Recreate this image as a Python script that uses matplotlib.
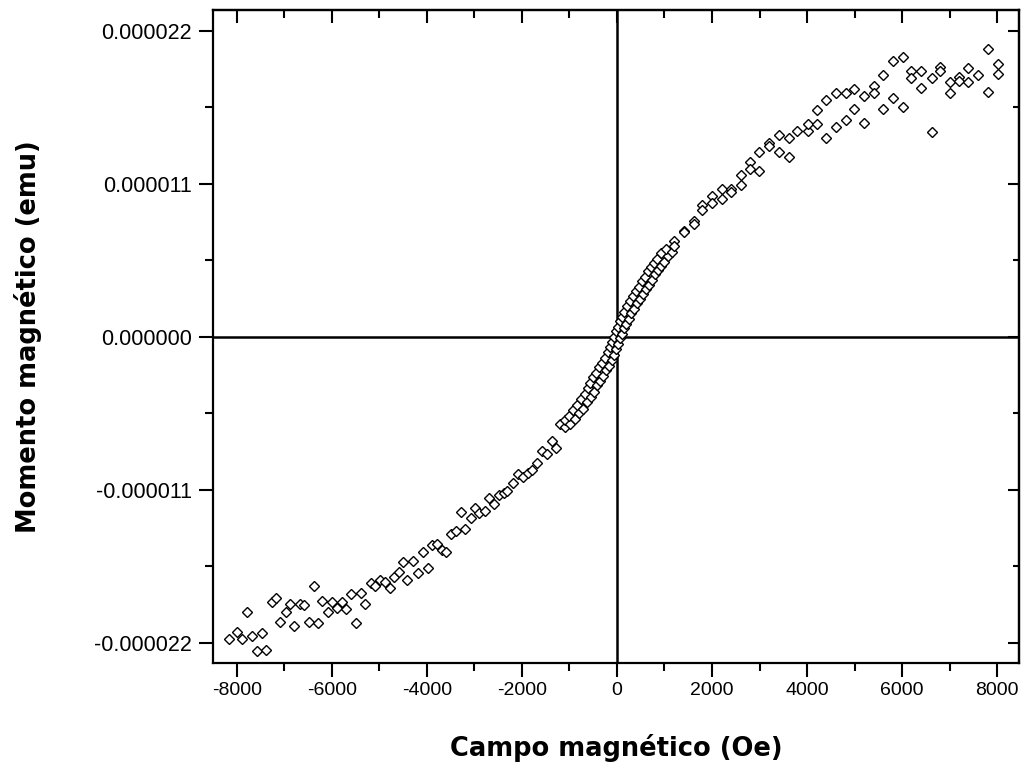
import matplotlib
matplotlib.use("Agg")
import matplotlib.pyplot as plt
from matplotlib.ticker import FixedLocator, FuncFormatter
import numpy as np

# Magnetic field (Oe) and magnetic moment (micro-emu)
field_low = [-8170, -8000, -7890, -7790, -7680, -7580, -7470, -7390, -7260, -7180,
             -7090, -6970, -6880, -6800, -6670, -6590, -6480, -6380, -6290, -6210,
             -6080, -6000, -5890, -5790, -5700, -5600, -5490, -5390, -5300, -5180,
             -5090, -4990, -4880, -4780, -4690, -4590, -4500, -4420, -4290, -4190,
             -4080, -3980, -3890, -3790, -3680, -3600, -3490, -3390, -3280, -3200,
             -3070, -2990, -2900, -2780, -2690, -2590, -2480, -2380, -2320, -2190,
             -2080, -1980, -1870, -1790, -1680, -1580, -1470, -1370, -1280]
moment_low = [-21.7, -21.2, -21.7, -19.8, -21.5, -22.6, -21.3, -22.5, -19.1, -18.8,
              -20.5, -19.8, -19.2, -20.8, -19.2, -19.3, -20.5, -17.9, -20.6, -19.0,
              -19.8, -19.1, -19.5, -19.1, -19.6, -18.5, -20.6, -18.4, -19.2, -17.7,
              -17.9, -17.5, -17.6, -18.1, -17.3, -16.9, -16.2, -17.5, -16.1, -17.0,
              -15.5, -16.6, -15.0, -14.9, -15.3, -15.5, -14.2, -14.0, -12.6, -13.8,
              -13.0, -12.3, -12.7, -12.5, -11.6, -12.0, -11.4, -11.2, -11.1, -10.5,
              -9.9, -10.1, -9.8, -9.6, -9.1, -8.2, -8.4, -7.5, -8.0]

field_mid = [-1200, -1100, -1090, -990, -1010, -890, -930, -800, -840, -720,
             -760, -630, -670, -550, -610, -490, -570, -420, -500, -360,
             -440, -300, -380, -230, -310, -170, -250, -110, -190, -70,
             -150, -20, -100, 20, -60, 60, -20, 100, 20, 150,
             60, 190, 110, 250, 150, 290, 210, 360, 270, 420,
             340, 480, 400, 550, 460, 610, 530, 670, 590, 730,
             650, 800, 720, 860, 780, 920, 840, 990, 930, 1070,
             1030, 1160]
moment_mid = [-6.3, -6.5, -6.0, -6.3, -5.7, -5.9, -5.3, -5.5, -4.9, -5.2,
              -4.5, -4.7, -4.1, -4.3, -3.7, -4.0, -3.3, -3.5, -2.9, -3.2,
              -2.6, -2.8, -2.2, -2.4, -1.9, -2.1, -1.5, -1.7, -1.1, -1.3,
              -0.7, -0.9, -0.4, -0.5, 0.0, -0.1, 0.4, 0.2, 0.7, 0.6,
              1.1, 0.9, 1.4, 1.3, 1.8, 1.7, 2.2, 2.0, 2.6, 2.4,
              2.9, 2.7, 3.3, 3.1, 3.6, 3.4, 4.0, 3.7, 4.3, 4.1,
              4.7, 4.5, 5.0, 4.8, 5.3, 5.1, 5.6, 5.4, 6.0, 5.8,
              6.3, 6.1]

field_high = [1200, 1200, 1410, 1410, 1620, 1620, 1790, 1790, 2000, 2000,
              2210, 2210, 2400, 2400, 2610, 2610, 2800, 2800, 2990, 2990,
              3200, 3200, 3410, 3410, 3620, 3620, 3790, 4020, 4020, 4210,
              4210, 4400, 4400, 4610, 4610, 4820, 4820, 4990, 4990, 5200,
              5200, 5410, 5410, 5600, 5600, 5810, 5810, 6020, 6020, 6190,
              6190, 6400, 6400, 6630, 6630, 6800, 6800, 7010, 7010, 7200,
              7200, 7390, 7390, 7600, 7810, 7810, 8020, 8020]
moment_high = [6.9, 6.5, 7.6, 7.5, 8.3, 8.1, 9.5, 9.1, 10.1, 9.6,
               10.6, 9.9, 10.6, 10.4, 11.6, 10.9, 12.6, 12.1, 13.3, 11.9,
               13.9, 13.7, 14.5, 13.3, 14.3, 12.9, 14.8, 14.8, 15.3, 15.3,
               16.3, 17.0, 14.3, 17.5, 15.1, 17.5, 15.6, 17.8, 16.4, 17.3,
               15.4, 18.0, 17.5, 18.8, 16.4, 19.8, 17.2, 20.1, 16.5, 19.1,
               18.6, 19.1, 17.9, 18.6, 14.7, 19.4, 19.1, 18.3, 17.5, 18.7,
               18.4, 19.3, 18.3, 18.8, 20.7, 17.6, 19.6, 18.9]

x_major = [-8000, -6000, -4000, -2000, 0, 2000, 4000, 6000, 8000]
x_minor = [-7000, -5000, -3000, -1000, 1000, 3000, 5000, 7000]
y_major_uemu = [-22, -11, 0, 11, 22]
y_minor_uemu = [-16.5, -5.5, 5.5, 16.5]

field = np.array(field_low + field_mid + field_high, dtype=float)
moment = np.array(moment_low + moment_mid + moment_high) * 1e-6

W, H = 1026, 765
fig = plt.figure(figsize=(W / 100, H / 100), dpi=100)
ax = fig.add_axes([213 / W, 1 - 663 / H, (1019 - 213) / W, (663 - 10) / H])

ax.axhline(0, color="black", lw=1.8, zorder=1)
ax.axvline(0, color="black", lw=1.8, zorder=1)
ax.plot(field, moment, linestyle="none", marker="D", ms=5.0, mfc="white",
        mec="black", mew=1.0, zorder=3)

ax.set_xlim(-8500, 8460)
ax.set_ylim(-23.46e-6, 23.5e-6)

ax.xaxis.set_major_locator(FixedLocator(x_major))
ax.xaxis.set_minor_locator(FixedLocator(x_minor))
ax.yaxis.set_major_locator(FixedLocator([v * 1e-6 for v in y_major_uemu]))
ax.yaxis.set_minor_locator(FixedLocator([v * 1e-6 for v in y_minor_uemu]))
ax.xaxis.set_major_formatter(FuncFormatter(lambda v, p: f"{int(round(v))}"))
ax.yaxis.set_major_formatter(FuncFormatter(
    lambda v, p: f"{round(v * 1e6) / 1e6:.6f}".replace("-0.000000", "0.000000")))

for lab in ax.get_xticklabels():
    lab.set_fontfamily(["Liberation Sans", "DejaVu Sans"])
    lab.set_fontsize(14)
for lab in ax.get_yticklabels():
    lab.set_fontfamily(["Liberation Sans", "DejaVu Sans"])
    lab.set_fontsize(15.5)

ax.tick_params(which="major", direction="out", length=10, width=1.5, color="black")
ax.tick_params(which="minor", direction="out", length=5.5, width=1.5, color="black")
ax.tick_params(axis="y", which="major", pad=5)
ax.tick_params(axis="x", which="major", pad=4)

for s in ax.spines.values():
    s.set_linewidth(1.6)

# inward ticks on top and right
top = ax.secondary_xaxis("top")
top.xaxis.set_major_locator(FixedLocator(x_major))
top.xaxis.set_minor_locator(FixedLocator(x_minor))
top.tick_params(which="major", direction="in", length=9.5, width=1.5, labeltop=False)
top.tick_params(which="minor", direction="in", length=5.5, width=1.5)
top.spines["top"].set_linewidth(1.6)

right = ax.secondary_yaxis("right")
right.yaxis.set_major_locator(FixedLocator([v * 1e-6 for v in y_major_uemu]))
right.yaxis.set_minor_locator(FixedLocator([v * 1e-6 for v in y_minor_uemu]))
right.tick_params(which="major", direction="in", length=8, width=1.5, labelright=False)
right.tick_params(which="minor", direction="in", length=4, width=1.5)
right.spines["right"].set_linewidth(1.6)

label_font = dict(family=["DejaVu Sans"], size=18.5, weight="bold")
ax.set_xlabel("Campo magnético (Oe)", **label_font)
ax.set_ylabel("Momento magnético (emu)", **label_font)
ax.xaxis.set_label_coords(0.5, (663 - 748) / 653)
ax.xaxis.label.set_va("center")
ax.yaxis.set_label_coords((28 - 213) / 806, 0.5)
ax.yaxis.label.set_va("center")

fig.savefig("out.png", dpi=100, facecolor="white")
